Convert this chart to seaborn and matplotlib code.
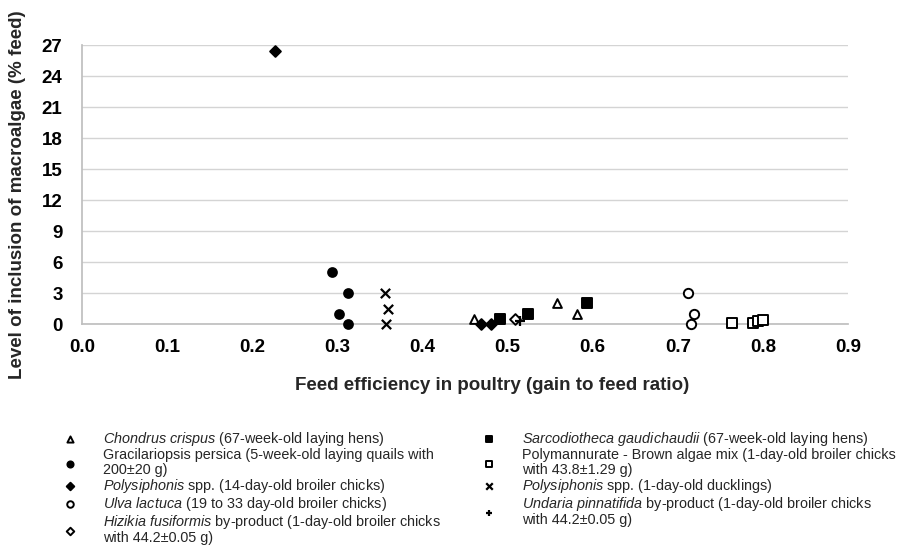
import matplotlib
matplotlib.use("Agg")
import matplotlib.pyplot as plt
import pandas as pd
import seaborn as sns

# series labels (mathtext for italic species names)
labels = [
    r"$\it{Chondrus\ crispus}$ (67-week-old laying hens)",
    "Gracilariopsis persica (5-week-old laying quails with\n200±20 g)",
    r"$\it{Polysiphonis}$ spp. (14-day-old broiler chicks)",
    r"$\it{Ulva\ lactuca}$ (19 to 33 day-old broiler chicks)",
    r"$\it{Hizikia\ fusiformis}$ by-product (1-day-old broiler chicks" + "\nwith 44.2±0.05 g)",
    r"$\it{Sarcodiotheca\ gaudichaudii}$ (67-week-old laying hens)",
    "Polymannurate - Brown algae mix (1-day-old broiler chicks\nwith 43.8±1.29 g)",
    r"$\it{Polysiphonis}$ spp. (1-day-old ducklings)",
    r"$\it{Undaria\ pinnatifida}$ by-product (1-day-old broiler chicks" + "\nwith 44.2±0.05 g)",
]

# feed efficiency (x) and inclusion level (y) per series
chondrus_x = [0.460, 0.558, 0.581]
chondrus_y = [0.5, 2.0, 1.0]
gracilariopsis_x = [0.294, 0.312, 0.302, 0.312]
gracilariopsis_y = [5.0, 3.0, 1.0, 0.0]
polysiphonis_chick_x = [0.227, 0.469, 0.480]
polysiphonis_chick_y = [26.4, 0.0, 0.0]
ulva_x = [0.712, 0.719, 0.715]
ulva_y = [3.0, 1.0, 0.0]
hizikia_x = [0.509]
hizikia_y = [0.45]
sarcodiotheca_x = [0.491, 0.524, 0.593]
sarcodiotheca_y = [0.5, 1.0, 2.0]
polymannurate_x = [0.764, 0.788, 0.794, 0.800]
polymannurate_y = [0.05, 0.1, 0.25, 0.4]
polysiphonis_duck_x = [0.356, 0.360, 0.357]
polysiphonis_duck_y = [3.0, 1.5, 0.0]
undaria_x = [0.480, 0.515]
undaria_y = [0.0, 0.3]

series_x = [chondrus_x, gracilariopsis_x, polysiphonis_chick_x, ulva_x, hizikia_x,
            sarcodiotheca_x, polymannurate_x, polysiphonis_duck_x, undaria_x]
series_y = [chondrus_y, gracilariopsis_y, polysiphonis_chick_y, ulva_y, hizikia_y,
            sarcodiotheca_y, polymannurate_y, polysiphonis_duck_y, undaria_y]

x_ticks = [0.0, 0.1, 0.2, 0.3, 0.4, 0.5, 0.6, 0.7, 0.8, 0.9]
y_ticks = [0, 3, 6, 9, 12, 15, 18, 21, 24, 27]

# marker, face colour, size
styles = [
    ("^", "white", 40),
    ("o", "black", 40),
    ("D", "black", 30),
    ("o", "white", 45),
    ("D", "white", 30),
    ("s", "black", 50),
    ("s", "white", 50),
    ("x", "black", 45),
    ("+", "black", 45),
]

df = pd.concat(
    [pd.DataFrame({"x": xs, "y": ys, "series": lab}) for xs, ys, lab in zip(series_x, series_y, labels)],
    ignore_index=True,
)

sns.set_theme(style="white")
plt.rcParams["font.family"] = ["Liberation Sans", "DejaVu Sans"]
plt.rcParams["mathtext.fontset"] = "custom"
plt.rcParams["mathtext.rm"] = "Liberation Sans"
plt.rcParams["mathtext.it"] = "Liberation Sans:italic"
plt.rcParams["mathtext.bf"] = "Liberation Sans:bold"

fig = plt.figure(figsize=(8.99, 5.53), dpi=100)
ax = fig.add_axes([0.0912, 0.4141, 0.8521, 0.5045])

for lab, (marker, face, size) in zip(labels, styles):
    sub = df.loc[df["series"] == lab]
    if marker in ("x", "+"):
        sns.scatterplot(data=sub, x="x", y="y", marker=marker, color="black", s=size,
                        linewidth=1.6, ax=ax, label=lab, zorder=3, clip_on=False)
    else:
        sns.scatterplot(data=sub, x="x", y="y", marker=marker, facecolor=face, edgecolor="black",
                        s=size, linewidth=1.4, ax=ax, label=lab, zorder=3, clip_on=False)

ax.set_xlim(0, 0.9)
ax.set_ylim(0, 27)
ax.set_xticks(x_ticks)
ax.set_xticklabels([f"{t:.1f}" for t in x_ticks])
ax.set_yticks(y_ticks)
ax.set_yticklabels([str(t) for t in y_ticks])
ax.tick_params(axis="both", length=0, labelsize=13.5, colors="black")
ax.tick_params(axis="x", pad=11)
ax.tick_params(axis="y", pad=14)
for t in ax.get_xticklabels() + ax.get_yticklabels():
    t.set_fontweight("bold")
ax.yaxis.grid(True, color="#d4d4d4", linewidth=1.0)
ax.xaxis.grid(False)
sns.despine(ax=ax, top=True, right=True)
ax.spines["left"].set_color("#bfbfbf")
ax.spines["bottom"].set_color("#bfbfbf")

ax.set_xlabel("Feed efficiency in poultry (gain to feed ratio)", fontsize=13.5, fontweight="bold")
ax.set_ylabel("Level of inclusion of macroalgae (% feed)", fontsize=13.5, fontweight="bold")
ax.xaxis.set_label_coords(0.535, -0.19)
ax.yaxis.set_label_coords(-0.073, 0.465)

handles, leg_labels = ax.get_legend_handles_labels()
ax.get_legend().remove()
leg = fig.legend(
    handles, leg_labels,
    loc="upper left",
    bbox_to_anchor=(0.070, 0.222),
    ncol=2,
    frameon=False,
    fontsize=10.4,
    borderpad=0,
    borderaxespad=0,
    handletextpad=1.8,
    columnspacing=2.8,
    labelspacing=0.0,
    markerscale=0.7,
    handlelength=1.0,
)
for txt in leg.get_texts():
    txt.set_linespacing(1.05)

fig.savefig("out.png", dpi=100)
